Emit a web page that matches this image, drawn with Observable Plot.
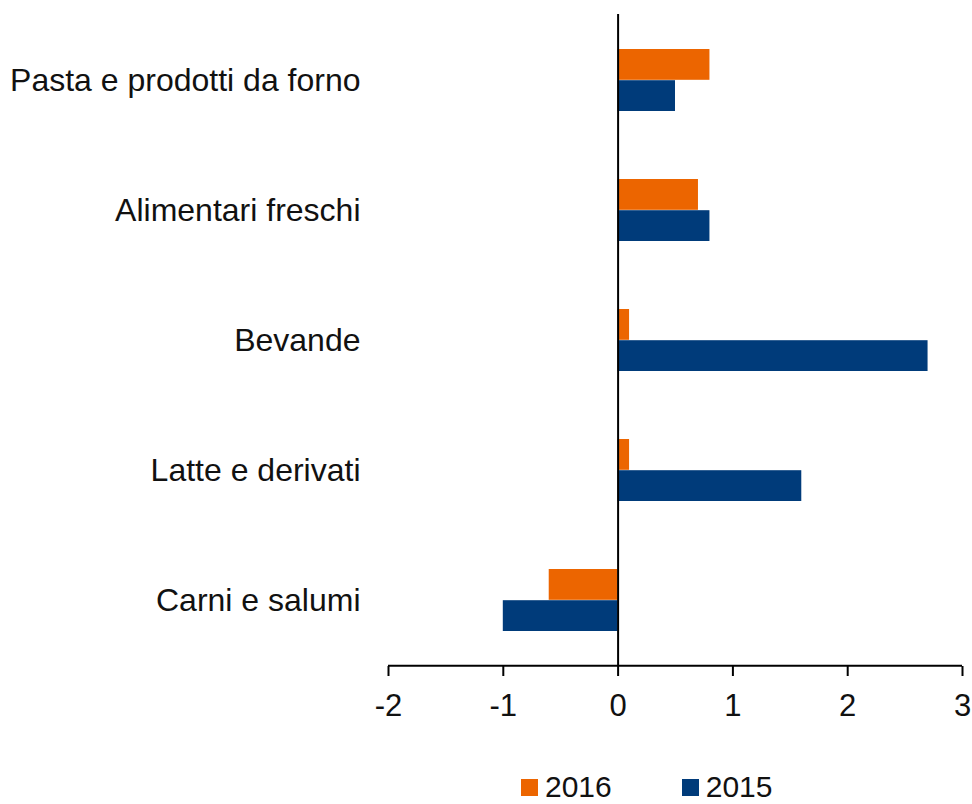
<!DOCTYPE html>
<html>
<head>
<meta charset="utf-8">
<script src="https://cdn.jsdelivr.net/npm/d3@7"></script>
<script src="https://cdn.jsdelivr.net/npm/@observablehq/plot@0.6"></script>
<style>
  body { margin: 0; background: #fff; font-family: "Liberation Sans", Arial, sans-serif; overflow: hidden; }
  #legend { display: flex; align-items: center; margin-top: 15px; margin-left: 521px; font-size: 30px; line-height: 24px; height: 24px; color: #111; }
  .sw { width: 17px; height: 17px; display: inline-block; margin-right: 7px; }
  .item { display: flex; align-items: center; }
</style>
</head>
<body>
<div id="chart"></div>
<div id="legend"></div>
<script>
const categories = ["Pasta e prodotti da forno", "Alimentari freschi", "Bevande", "Latte e derivati", "Carni e salumi"];
const values2016 = [0.8, 0.7, 0.1, 0.1, -0.6];
const values2015 = [0.5, 0.8, 2.7, 1.6, -1.0];
const xTicks = [-2, -1, 0, 1, 2, 3];
const series = ["2016", "2015"];
const colors = ["#EC6500", "#003B7A"];

const d2016 = categories.map((c, i) => ({cat: c, value: values2016[i]}));
const d2015 = categories.map((c, i) => ({cat: c, value: values2015[i]}));

const chart = Plot.plot({
  width: 972,
  height: 760,
  marginTop: 14,
  marginBottom: 94,
  marginLeft: 388,
  marginRight: 10,
  style: {fontFamily: "Liberation Sans, Arial, sans-serif", fontSize: "31px", color: "#111", background: "#fff"},
  x: {domain: [-2, 3], label: null},
  y: {domain: categories, padding: 0, label: null},
  marks: [
    Plot.barX(d2016, {x: "value", y: "cat", fill: colors[0], insetTop: 34, insetBottom: 65.2}),
    Plot.barX(d2015, {x: "value", y: "cat", fill: colors[1], insetTop: 65.2, insetBottom: 34}),
    Plot.ruleX([0], {stroke: "#000", strokeWidth: 2}),
    Plot.axisX({ticks: xTicks, tickSize: 10, tickPadding: 17, strokeWidth: 2, stroke: "#000", fill: "#111", tickFormat: d => d < 0 ? "-" + Math.abs(d) : String(d)}),
    Plot.ruleY([categories[categories.length - 1]], {stroke: "#000", strokeWidth: 2, dy: 65.2, x1: -2, x2: 3}),
    Plot.axisY({tickSize: 0, tickPadding: 28, fill: "#111", fontSize: 32})
  ]
});
document.getElementById("chart").appendChild(chart);

const legend = document.getElementById("legend");
series.forEach((s, i) => {
  const item = document.createElement("span");
  item.className = "item";
  if (i > 0) item.style.marginLeft = "70px";
  item.innerHTML = `<span class="sw" style="background:${colors[i]}"></span><span>${s}</span>`;
  legend.appendChild(item);
});
</script>
</body>
</html>
